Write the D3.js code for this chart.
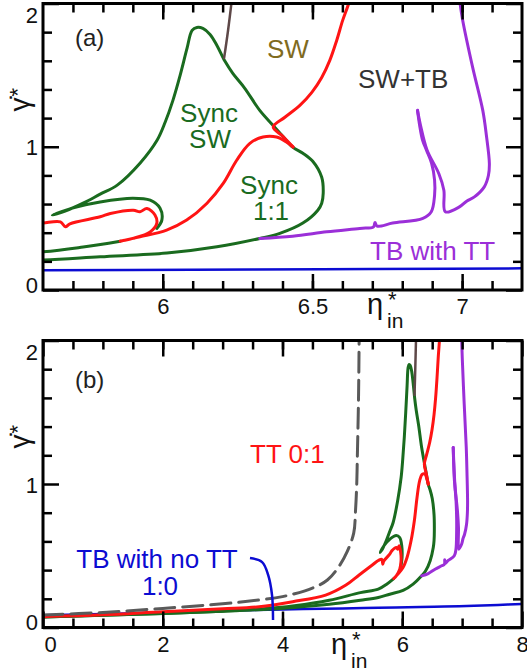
<!DOCTYPE html>
<html><head><meta charset="utf-8">
<script src="https://cdn.jsdelivr.net/npm/d3@7"></script>
<style>
body{margin:0;background:#fff}
svg{display:block}
text{font-family:"Liberation Sans",Arial,sans-serif}
</style>
</head><body>
<svg id="c" width="527" height="670"></svg>
<script>
// ---------- data (eta*_in, gamma-dot*) ----------
const blueLine = [[0,0.085],[1,0.094],[2,0.104],[3,0.116],[4,0.126],[5,0.133],[5.6,0.138],[6.3,0.143],[6.7,0.146],[7.2,0.151],[7.6,0.157],[8,0.164]];
const grayDashed = [[0,0.087],[1,0.105],[2,0.133],[3,0.165],[3.61,0.192],[4.0,0.215],[4.5,0.275],[4.75,0.331],[4.95,0.43],[5.08,0.528],[5.19,0.659],[5.22,0.819],[5.24,1.0],[5.25,1.19],[5.27,1.608],[5.28,2.02]];
const redMain = [[0,0.075],[1,0.088],[2,0.11],[3,0.13],[3.61,0.145],[4.17,0.18],[4.72,0.226],[5.06,0.296],[5.28,0.366],[5.5,0.436],[5.6,0.467],[5.658,0.476],[5.675,0.441],[5.69,0.462],[5.791,0.511],[5.825,0.534],[5.902,0.557],[5.924,0.546],[5.947,0.569],[5.974,0.523],[5.98,0.465],[5.958,0.406],[5.9,0.36],[5.858,0.341],[5.924,0.371],[6.013,0.418],[6.08,0.488],[6.147,0.604],[6.202,0.744],[6.247,0.906],[6.291,1.024],[6.335,1.068],[6.38,1.068],[6.413,1.033],[6.435,0.999]];
const redUpper = [[6.435,0.999],[6.401,1.073],[6.369,1.138],[6.408,1.206],[6.458,1.289],[6.498,1.38],[6.531,1.484],[6.558,1.603],[6.581,1.742],[6.601,1.882],[6.621,2.0],[6.626,2.05]];
const greenMain = [[0,0.074],[1,0.085],[2,0.098],[3,0.113],[3.6,0.124],[4.2,0.14],[4.78,0.162],[5.3,0.19],[5.6,0.209],[5.791,0.232],[6.014,0.258],[6.181,0.302],[6.324,0.36],[6.391,0.395],[6.468,0.467],[6.518,0.557],[6.531,0.606],[6.536,0.676],[6.531,0.787],[6.501,0.899],[6.468,0.955],[6.434,0.997],[6.401,1.073],[6.368,1.15],[6.324,1.254],[6.274,1.408],[6.234,1.512],[6.208,1.596],[6.181,1.707],[6.158,1.784],[6.134,1.826],[6.114,1.833],[6.098,1.812],[6.081,1.686],[6.058,1.498],[6.034,1.324],[6.008,1.171],[5.981,1.045],[5.924,0.885],[5.848,0.732],[5.791,0.669],[5.734,0.606],[5.674,0.551],[5.631,0.523],[5.708,0.578],[5.791,0.615],[5.9,0.641],[5.958,0.627],[5.991,0.571],[5.997,0.488],[5.98,0.43]];
const greenInner = [[0,0.074],[2,0.098],[3,0.114],[3.6,0.128],[4.2,0.152],[4.78,0.19],[5.3,0.243],[5.6,0.267],[5.734,0.3],[5.858,0.341]];
const purpleLeft = [[6.324,0.36],[6.434,0.376],[6.548,0.406],[6.658,0.43],[6.704,0.441],[6.709,0.472],[6.716,0.446],[6.768,0.467],[6.869,0.5],[6.897,0.546],[6.908,0.662],[6.908,0.767],[6.898,0.885],[6.881,0.976],[6.868,1.045],[6.858,1.15],[6.851,1.254]];
const purpleRight = [[6.991,2.03],[7.002,1.882],[7.035,1.556],[7.069,1.254],[7.081,1.08],[7.091,0.883],[7.088,0.801],[7.074,0.72],[7.041,0.65],[7.015,0.62],[6.991,0.58],[6.944,0.546],[6.939,0.697],[6.922,0.813],[6.883,0.976],[6.861,1.15],[6.851,1.254]];
const brownLine = [[6.205,1.62],[6.218,1.81],[6.231,2.03]];
const leaderLine = [[3.457,0.484],[3.66,0.456],[3.76,0.366],[3.825,0.226],[3.842,0.052]];

const xMajorA = [6, 6.5, 7];
const xMinorA = d3.range(57, 72).map(v => v / 10);
const xMajorB = [0, 2, 4, 6, 8];
const xMinorB = d3.range(1, 16).map(v => v / 2);
const yMajor = [0, 1, 2];
const yMinor = [0.2, 0.4, 0.6, 0.8, 1.2, 1.4, 1.6, 1.8];

const C = {red:"#ff1414", green:"#1a6b1f", blue:"#0c0cd2", purple:"#9b2fd8", gray:"#5a5a5a", brown:"#5e4848"};

const svg = d3.select("#c");

function panel(cfg) {
  const x = d3.scaleLinear().domain(cfg.xd).range([43, 522]);
  const y = d3.scaleLinear().domain([0, 2]).range([cfg.yb, cfg.yt]);
  const g = svg.append("g");
  const cid = "clip" + cfg.id;
  g.append("clipPath").attr("id", cid).append("rect")
    .attr("x", 43).attr("y", cfg.yt).attr("width", 479).attr("height", cfg.yb - cfg.yt);
  const line = d3.line().x(d => x(d[0])).y(d => y(d[1])).curve(d3.curveCatmullRom.alpha(0.5));
  const plot = g.append("g").attr("clip-path", `url(#${cid})`);
  cfg.series.forEach(s => {
    plot.append("path").datum(s.data).attr("d", line)
      .attr("fill", "none").attr("stroke", s.color).attr("stroke-width", s.w || 3)
      .attr("stroke-linejoin", "round").attr("stroke-linecap", "round")
      .attr("stroke-dasharray", s.dash || null);
  });

  function styleAxis(sel) {
    sel.select(".domain").remove();
    sel.selectAll(".tick line").attr("stroke", "#000").attr("stroke-width", 2.5);
    sel.selectAll(".tick text").attr("font-size", 22).attr("fill", "#111")
      .attr("font-family", '"Liberation Sans", Arial, sans-serif');
  }
  // bottom
  g.append("g").attr("transform", `translate(0,${cfg.yb})`)
    .call(d3.axisBottom(x).tickValues(cfg.xMinor).tickSize(-9).tickFormat("")).call(styleAxis);
  const bx = g.append("g").attr("transform", `translate(0,${cfg.yb})`)
    .call(d3.axisBottom(x).tickValues(cfg.xMajor).tickSize(-16).tickFormat(d3.format("~g"))).call(styleAxis);
  bx.selectAll(".tick text").attr("y", cfg.xLabelDy).attr("dy", 0)
    .attr("dx", d => d === 0 ? 7 : 0);
  // top
  g.append("g").attr("transform", `translate(0,${cfg.yt})`)
    .call(d3.axisTop(x).tickValues(cfg.xMinor).tickSize(-9).tickFormat("")).call(styleAxis);
  g.append("g").attr("transform", `translate(0,${cfg.yt})`)
    .call(d3.axisTop(x).tickValues(cfg.xMajor).tickSize(-16).tickFormat("")).call(styleAxis);
  // left
  g.append("g").attr("transform", "translate(43,0)")
    .call(d3.axisLeft(y).tickValues(yMinor).tickSize(-9).tickFormat("")).call(styleAxis);
  const ly = g.append("g").attr("transform", "translate(43,0)")
    .call(d3.axisLeft(y).tickValues(yMajor).tickSize(-16).tickPadding(5).tickFormat(d3.format("d"))).call(styleAxis);
  ly.selectAll(".tick text").attr("dy", 0).attr("y", d => d === 2 ? 19 : d === 0 ? 2 : 8);
  // right
  g.append("g").attr("transform", "translate(522,0)")
    .call(d3.axisRight(y).tickValues(yMinor).tickSize(-9).tickFormat("")).call(styleAxis);
  g.append("g").attr("transform", "translate(522,0)")
    .call(d3.axisRight(y).tickValues(yMajor).tickSize(-16).tickFormat("")).call(styleAxis);
  // frame
  g.append("rect").attr("x", 43).attr("y", cfg.yt).attr("width", 479).attr("height", cfg.yb - cfg.yt)
    .attr("fill", "none").attr("stroke", "#000").attr("stroke-width", 3);

  // axis labels
  const yl = g.append("g").attr("transform", `translate(29,${cfg.yt + 108}) rotate(-90)`);
  yl.append("text").text("γ̇").attr("x", 0).attr("y", 0)
    .attr("font-family", '"DejaVu Sans", sans-serif').attr("font-size", 28).attr("fill", "#111");
  yl.append("text").text("*").attr("x", 15).attr("y", -4).attr("font-size", 22).attr("fill", "#111");
  const xl = g.append("g").attr("transform", `translate(${cfg.etaX},${cfg.etaY})`);
  xl.append("text").text("η").attr("font-size", 29).attr("fill", "#111");
  xl.append("text").text("*").attr("x", 21).attr("y", -7).attr("font-size", 22).attr("fill", "#111");
  xl.append("text").text("in").attr("x", 20).attr("y", 14).attr("font-size", 21).attr("fill", "#111");

  cfg.notes.forEach(n => {
    const t = g.append("text").attr("x", n.x).attr("y", n.y).attr("font-size", n.fs || 25)
      .attr("fill", n.c).attr("text-anchor", n.a || "start").text(n.t);
  });
  if (cfg.leader) {
    plot.append("path").datum(cfg.leader).attr("d", line).attr("fill", "none")
      .attr("stroke", C.blue).attr("stroke-width", 2.5);
  }
  return {x, y};
}

panel({
  id: "a", xd: [5.6, 7.2], yb: 290, yt: 3.5, xMajor: xMajorA, xMinor: xMinorA, xLabelDy: 24,
  etaX: 367, etaY: 314,
  series: [
    {data: blueLine, color: C.blue, w: 2.5},
    {data: greenInner, color: C.green},
    {data: greenMain, color: C.green},
    {data: purpleLeft, color: C.purple},
    {data: purpleRight, color: C.purple},
    {data: redMain, color: C.red},
    {data: redUpper, color: C.red},
    {data: brownLine, color: C.brown, w: 2.5}
  ],
  notes: [
    {t: "(a)", x: 75, y: 46, c: "#222", fs: 24},
    {t: "SW", x: 267, y: 58, c: "#7f6b1f", fs: 26},
    {t: "SW+TB", x: 358, y: 88, c: "#333", fs: 26},
    {t: "Sync", x: 209, y: 122, c: C.green, a: "middle", fs: 26},
    {t: "SW", x: 210, y: 148, c: C.green, a: "middle", fs: 26},
    {t: "Sync", x: 269, y: 194, c: C.green, a: "middle", fs: 26},
    {t: "1:1", x: 271, y: 220, c: C.green, a: "middle", fs: 26},
    {t: "TB with TT", x: 370, y: 260, c: C.purple, fs: 26}
  ]
});

panel({
  id: "b", xd: [0, 8], yb: 627.5, yt: 340.5, xMajor: xMajorB, xMinor: xMinorB, xLabelDy: 24,
  etaX: 331, etaY: 654,
  series: [
    {data: blueLine, color: C.blue, w: 2.5},
    {data: greenInner, color: C.green},
    {data: greenMain, color: C.green},
    {data: purpleLeft, color: C.purple},
    {data: purpleRight, color: C.purple},
    {data: redMain, color: C.red},
    {data: redUpper, color: C.red},
    {data: brownLine, color: C.brown, w: 2.5},
    {data: grayDashed, color: C.gray, w: 3, dash: "20,8"}
  ],
  leader: leaderLine,
  notes: [
    {t: "(b)", x: 75, y: 388, c: "#222", fs: 24},
    {t: "TT 0:1", x: 250, y: 463, c: C.red, fs: 26},
    {t: "TB with no TT", x: 157, y: 568, c: C.blue, a: "middle", fs: 26},
    {t: "1:0", x: 160, y: 595, c: C.blue, a: "middle", fs: 26}
  ]
});
</script>
</body></html>
